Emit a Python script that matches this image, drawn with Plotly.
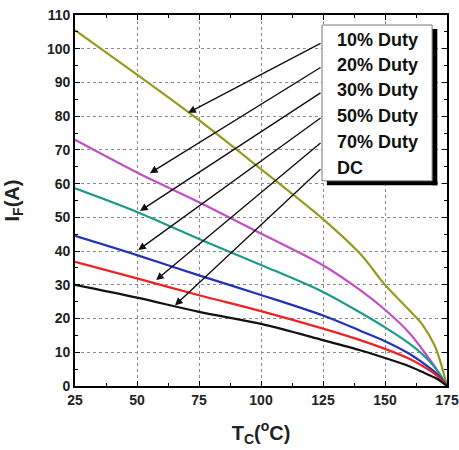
import plotly.graph_objects as go

# ---------------- data ----------------
tc = [25, 50, 75, 100, 125, 140, 150, 160, 165, 170, 172.5, 175]
duty10 = [105.5, 92.3, 78.8, 64.3, 49.5, 39.2, 30.0, 22.3, 18.3, 12.0, 6.8, 0]
duty20 = [73.0, 63.3, 54.5, 45.2, 35.8, 28.4, 22.6, 15.6, 10.9, 5.8, 3.0, 0]
duty30 = [58.6, 51.6, 43.6, 35.9, 27.9, 21.8, 17.4, 12.5, 9.5, 5.6, 3.0, 0]
duty50 = [44.5, 38.8, 32.8, 27.0, 20.9, 16.4, 13.3, 9.5, 7.0, 4.2, 2.3, 0]
duty70 = [36.8, 31.9, 26.9, 22.2, 17.0, 13.6, 11.0, 8.0, 6.0, 3.6, 2.0, 0]
dc = [30.0, 26.2, 22.0, 18.4, 13.6, 10.6, 8.3, 5.8, 4.2, 2.5, 1.4, 0]

series_names = ["10% Duty", "20% Duty", "30% Duty", "50% Duty", "70% Duty", "DC"]
series_values = [duty10, duty20, duty30, duty50, duty70, dc]
series_colors = ["#999922", "#c24fc2", "#1e9a8c", "#2233b5", "#ee2222", "#111111"]

# arrow heads (points on curves) and tails (legend edge), data units
arrow_head_x = [70.6, 55.2, 51.2, 50.5, 57.7, 65.3]
arrow_head_y = [81.0, 63.1, 51.9, 40.3, 31.4, 23.9]
arrow_tail_x = [124.6] * 6
arrow_tail_y = [101.8, 94.7, 87.2, 79.8, 72.4, 64.7]

x_ticks = [25, 50, 75, 100, 125, 150, 175]
y_ticks = list(range(0, 111, 10))

# ---------------- figure ----------------
fig = go.Figure()
for name, vals, col in zip(series_names, series_values, series_colors):
    fig.add_trace(go.Scatter(x=tc, y=vals, mode="lines", name=name,
                             line=dict(color=col, width=2.2, shape="spline", smoothing=0.9),
                             showlegend=False, hoverinfo="skip"))

FONT = "Liberation Sans, Arial, sans-serif"
axis_common = dict(
    showline=True, linecolor="black", linewidth=1.6, mirror="allticks",
    ticks="inside", ticklen=5, tickwidth=1.3, tickcolor="black",
    showgrid=True, gridcolor="#8a8a8a", griddash="dot", gridwidth=0.8,
    zeroline=False, automargin=False, ticklabeloverflow="allow",
    tickfont=dict(family=FONT, size=14, color="#222", weight="bold"),
)

fig.update_xaxes(range=[25, 175], tickvals=x_ticks,
                 minor=dict(ticks="inside", ticklen=3, tickcolor="black", dtick=12.5, showgrid=False),
                 title=dict(text="T<sub>C</sub>(<sup>o</sup>C)",
                            font=dict(family=FONT, size=20, color="#222", weight="bold"),
                            standoff=19),
                 **axis_common)
fig.update_yaxes(range=[0, 110], tickvals=y_ticks,
                 minor=dict(ticks="inside", ticklen=3, tickcolor="black", dtick=5, showgrid=False),
                 title=dict(text="I<sub>F</sub>(A)",
                            font=dict(family=FONT, size=20, color="#222", weight="bold"),
                            standoff=22),
                 **axis_common)

# legend box with shadow (paper coords)
shapes = [
    dict(type="rect", xref="paper", yref="paper", x0=0.960, x1=0.974, y0=0.541, y1=0.962,
         fillcolor="black", line=dict(width=0)),
    dict(type="rect", xref="paper", yref="paper", x0=0.677, x1=0.974, y0=0.541, y1=0.553,
         fillcolor="black", line=dict(width=0)),
    dict(type="rect", xref="paper", yref="paper", x0=0.664, x1=0.960, y0=0.553, y1=0.973,
         fillcolor="white", line=dict(color="#777", width=1)),
]

annotations = []
row_y = [0.933, 0.865, 0.798, 0.729, 0.659, 0.588]
for name, ry in zip(series_names, row_y):
    annotations.append(dict(xref="paper", yref="paper", x=0.698, y=ry, text=name,
                            showarrow=False, xanchor="left", yanchor="middle",
                            font=dict(family=FONT, size=18, color="#111", weight="bold")))
for hx, hy, tx, ty in zip(arrow_head_x, arrow_head_y, arrow_tail_x, arrow_tail_y):
    annotations.append(dict(x=hx, y=hy, xref="x", yref="y", ax=tx, ay=ty,
                            axref="x", ayref="y", text="", showarrow=True,
                            arrowhead=2, arrowsize=1.1, arrowwidth=1.4, arrowcolor="#111"))

fig.update_layout(
    width=459, height=450,
    margin=dict(l=75, r=12, t=15, b=64),
    paper_bgcolor="white", plot_bgcolor="white",
    shapes=shapes, annotations=annotations,
    font=dict(family=FONT),
)

fig.write_html("out.html", config={"displayModeBar": False},
               post_script="document.body.style.margin='0px';document.body.style.overflow='hidden';")
